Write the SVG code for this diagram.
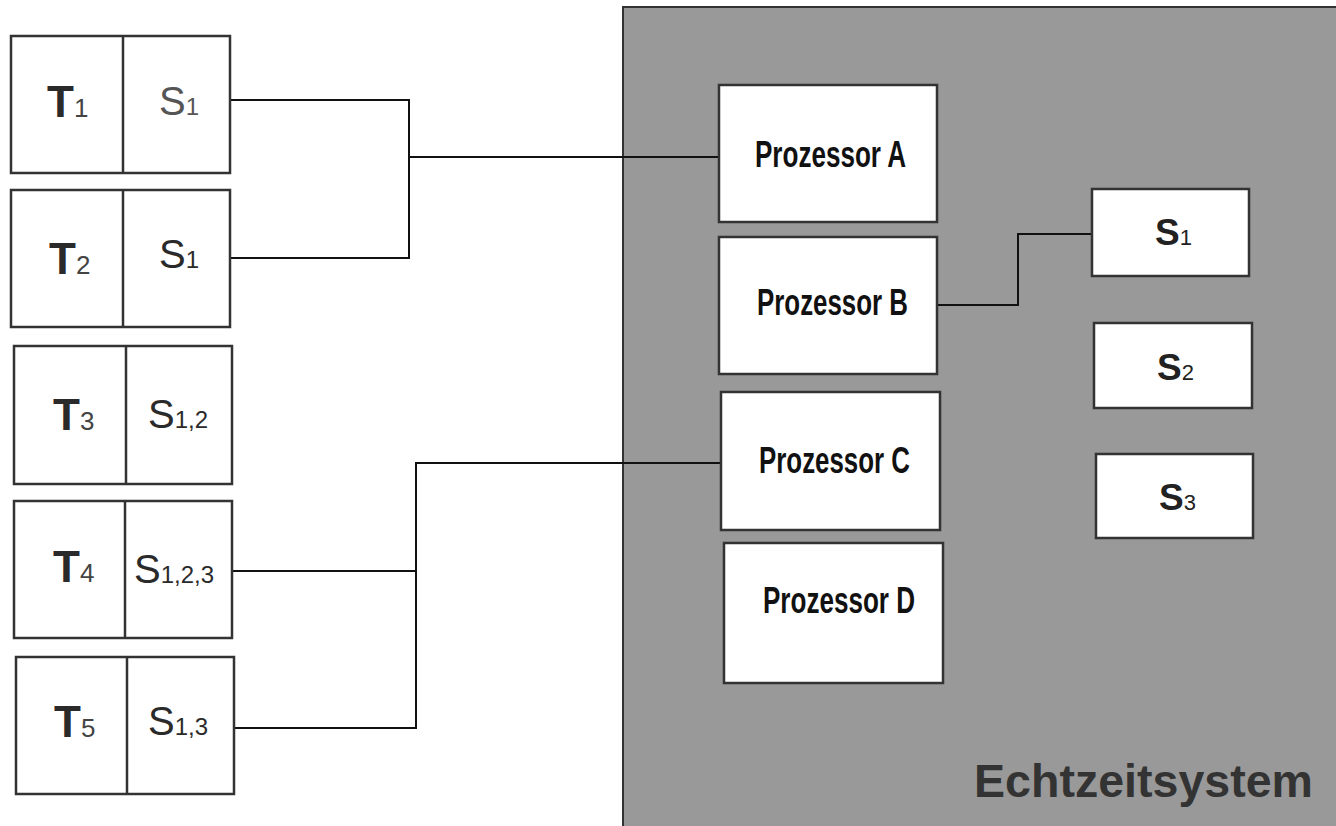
<svg xmlns="http://www.w3.org/2000/svg" width="1336" height="826" viewBox="0 0 1336 826">
<style>
.box{fill:#fff;stroke:#333;stroke-width:2.5}
.div{stroke:#333;stroke-width:2.5}
.conn{fill:none;stroke:#111;stroke-width:2}
.t{font-family:"Liberation Sans",Arial,sans-serif;font-weight:bold;font-size:44px;fill:#2a2a2a}
.s{font-family:"Liberation Sans",Arial,sans-serif;font-size:40px;fill:#2a2a2a}
.sg{fill:#555}
.sub{font-size:24px;font-weight:normal}
.tsub{font-size:26px;font-weight:normal;fill:#444}
.proc{font-family:"Liberation Sans",Arial,sans-serif;font-weight:bold;font-size:37px;fill:#111}
.rs{font-family:"Liberation Sans",Arial,sans-serif;font-weight:bold;font-size:37px;fill:#222}
.rsub{font-size:22px;font-weight:normal}
.title{font-family:"Liberation Sans",Arial,sans-serif;font-weight:bold;font-size:47px;fill:#333}
</style>
<rect width="1336" height="826" fill="#fff"/>
<g id="system">
<rect x="623" y="7" width="720" height="830" fill="#999" stroke="#333" stroke-width="2"/>
<text class="title" x="974" y="797" textLength="339" lengthAdjust="spacingAndGlyphs">Echtzeitsystem</text>
</g>
<g id="connectors">
<polyline class="conn" points="231,100 409,100 409,258 231,258"/>
<line class="conn" x1="409" y1="157" x2="720" y2="157"/>
<polyline class="conn" points="233,571 416,571"/>
<polyline class="conn" points="235,728 416,728 416,463 722,463"/>
<polyline class="conn" points="937,305 1018,305 1018,234 1092,234"/>
</g>
<g id="task1">
<rect class="box" x="11" y="36" width="219" height="137"/>
<line class="div" x1="123" y1="36" x2="123" y2="173"/>
<text class="t" x="47" y="117">T<tspan class="tsub">1</tspan></text>
<text class="s sg" x="159" y="115">S<tspan class="sub">1</tspan></text>
</g>
<g id="task2">
<rect class="box" x="11" y="190" width="219" height="137"/>
<line class="div" x1="123" y1="190" x2="123" y2="327"/>
<text class="t" x="49" y="274">T<tspan class="tsub">2</tspan></text>
<text class="s" x="159" y="268">S<tspan class="sub">1</tspan></text>
</g>
<g id="task3">
<rect class="box" x="14" y="346" width="218" height="138"/>
<line class="div" x1="126" y1="346" x2="126" y2="484"/>
<text class="t" x="53" y="430">T<tspan class="tsub">3</tspan></text>
<text class="s" x="148" y="428">S<tspan class="sub">1,2</tspan></text>
</g>
<g id="task4">
<rect class="box" x="14" y="501" width="218" height="137"/>
<line class="div" x1="125" y1="501" x2="125" y2="638"/>
<text class="t" x="53" y="582">T<tspan class="tsub">4</tspan></text>
<text class="s" x="134" y="583">S<tspan class="sub">1,2,3</tspan></text>
</g>
<g id="task5">
<rect class="box" x="16" y="657" width="218" height="137"/>
<line class="div" x1="127" y1="657" x2="127" y2="794"/>
<text class="t" x="54" y="737">T<tspan class="tsub">5</tspan></text>
<text class="s" x="148" y="735">S<tspan class="sub">1,3</tspan></text>
</g>
<g id="procA">
<rect class="box" x="719" y="85" width="218" height="137"/>
<text class="proc" x="755" y="167" textLength="151" lengthAdjust="spacingAndGlyphs">Prozessor A</text>
</g>
<g id="procB">
<rect class="box" x="719" y="237" width="218" height="137"/>
<text class="proc" x="757" y="315" textLength="151" lengthAdjust="spacingAndGlyphs">Prozessor B</text>
</g>
<g id="procC">
<rect class="box" x="721" y="392" width="219" height="138"/>
<text class="proc" x="759" y="473" textLength="151" lengthAdjust="spacingAndGlyphs">Prozessor C</text>
</g>
<g id="procD">
<rect class="box" x="724" y="543" width="219" height="140"/>
<text class="proc" x="763" y="613" textLength="152" lengthAdjust="spacingAndGlyphs">Prozessor D</text>
</g>
<g id="res1">
<rect class="box" x="1092" y="189" width="157" height="87"/>
<text class="rs" x="1155" y="245">S<tspan class="rsub">1</tspan></text>
</g>
<g id="res2">
<rect class="box" x="1094" y="323" width="158" height="85"/>
<text class="rs" x="1157" y="380">S<tspan class="rsub">2</tspan></text>
</g>
<g id="res3">
<rect class="box" x="1096" y="454" width="157" height="84"/>
<text class="rs" x="1159" y="510">S<tspan class="rsub">3</tspan></text>
</g>
</svg>
